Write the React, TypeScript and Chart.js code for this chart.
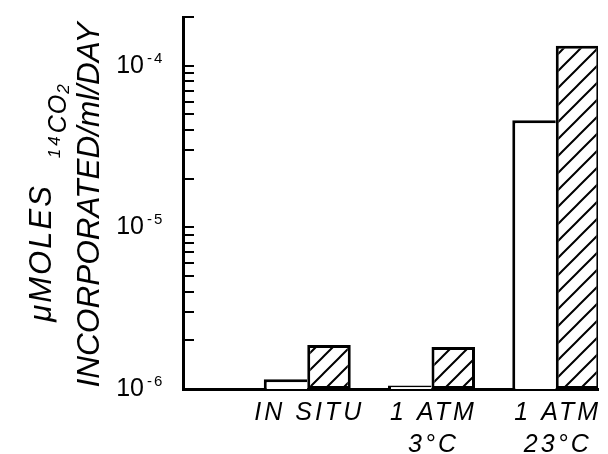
import React, { useEffect, useRef } from "react";
import { Chart, registerables } from "chart.js";

Chart.register(...registerables);

// Treatment groups along the x axis (line-broken labels) and their positions
const groupLabels: string[][] = [["IN SITU"], ["1 ATM", "3°C"], ["1 ATM", "23°C"]];
const groupPositions: number[] = [1, 2, 3];

// Uptake rates, µmoles 14CO2 incorporated / ml / day
const openValues: number[] = [1.15e-6, 1.05e-6, 4.6e-5];
const hatchedValues: number[] = [1.87e-6, 1.82e-6, 1.33e-4];

// Log axis range, decade labels and minor tick mantissas
const yMin = 1e-6;
const yMax = 2e-4;
const decades: number[] = [1e-6, 1e-5, 1e-4];
const decadeExponents: string[] = ["-6", "-5", "-4"];
const tickMantissas: number[] = [1, 2, 3, 4, 5, 6, 7, 8, 9];

// Axis title text
const titleLine1 = { main: "\u03bcMOLES", sup: "14", body: "CO", sub: "2" };
const titleLine2 = "INCORPORATED/ml/DAY";

const FACE = '"Liberation Sans", Arial, sans-serif';

function makeHatch(): CanvasPattern | string {
  const size = 17;
  const c = document.createElement("canvas");
  c.width = size;
  c.height = size;
  const g = c.getContext("2d");
  if (!g) return "#fff";
  g.fillStyle = "#fff";
  g.fillRect(0, 0, size, size);
  g.strokeStyle = "#000";
  g.lineWidth = 2;
  g.beginPath();
  g.moveTo(-2, size + 2);
  g.lineTo(size + 2, -2);
  g.moveTo(-3, 3);
  g.lineTo(3, -3);
  g.moveTo(size - 3, size + 3);
  g.lineTo(size + 3, size - 3);
  g.stroke();
  return g.createPattern(c, "repeat") || "#fff";
}

type Run = { text: string; size: number; dy: number; spacing: number; gap: number; italic: boolean };

function drawRotatedRuns(
  ctx: CanvasRenderingContext2D,
  runs: Run[],
  baselineX: number,
  centerY: number,
  squeeze: number
) {
  const c = ctx as any;
  const widths = runs.map((r) => {
    ctx.font = `${r.italic ? "italic " : ""}${r.size}px ${FACE}`;
    c.letterSpacing = "0px";
    return ctx.measureText(r.text).width + r.spacing * r.text.length;
  });
  const total = runs.reduce((s, r, i) => s + r.gap + widths[i], 0);
  ctx.save();
  ctx.translate(baselineX, centerY);
  ctx.rotate(-Math.PI / 2);
  ctx.scale(squeeze, 1);
  ctx.textAlign = "left";
  ctx.textBaseline = "alphabetic";
  let u = -total / 2;
  runs.forEach((r, i) => {
    u += r.gap;
    ctx.font = `${r.italic ? "italic " : ""}${r.size}px ${FACE}`;
    c.letterSpacing = `${r.spacing}px`;
    ctx.fillText(r.text, u, r.dy);
    u += widths[i];
  });
  c.letterSpacing = "0px";
  ctx.restore();
}

const decorPlugin = {
  id: "decor",
  afterDraw(chart: any) {
    const { ctx, chartArea, scales } = chart;
    const ys = scales.y;
    const xs = scales.x;
    const c = ctx as any;
    ctx.save();
    ctx.fillStyle = "#000";
    ctx.strokeStyle = "#000";

    // minor/major ticks pointing into the plot
    ctx.lineWidth = 2;
    ctx.beginPath();
    decades.forEach((d) => {
      tickMantissas.forEach((m) => {
        const v = m * d;
        if (v > yMax * 1.0001) return;
        const p = Math.round(ys.getPixelForValue(v));
        ctx.moveTo(chartArea.left, p);
        ctx.lineTo(chartArea.left + 11, p);
      });
    });
    ctx.stroke();

    // decade labels 10^n
    decades.forEach((d, i) => {
      const p = ys.getPixelForValue(d);
      ctx.font = `25px ${FACE}`;
      c.letterSpacing = "0px";
      ctx.textAlign = "right";
      ctx.textBaseline = "alphabetic";
      ctx.fillText("10", chartArea.left - 39, p + 7);
      ctx.font = `15px ${FACE}`;
      c.letterSpacing = "2px";
      ctx.textAlign = "left";
      ctx.fillText(decadeExponents[i], chartArea.left - 36, p - 3);
    });
    c.letterSpacing = "0px";

    // y axis title, two rotated lines
    const midY = (chartArea.top + chartArea.bottom) / 2;
    drawRotatedRuns(
      ctx,
      [
        { text: titleLine1.main, size: 31, dy: 0, spacing: 2, gap: 0, italic: true },
        { text: titleLine1.sup, size: 17, dy: 9, spacing: 3, gap: 26, italic: true },
        { text: titleLine1.body, size: 25, dy: 15, spacing: 1, gap: 0, italic: true },
        { text: titleLine1.sub, size: 17, dy: 18, spacing: 0, gap: 0, italic: true },
      ],
      51,
      midY,
      1
    );
    drawRotatedRuns(
      ctx,
      [{ text: titleLine2, size: 32, dy: 0, spacing: 0, gap: 0, italic: true }],
      99,
      midY + 2,
      0.985
    );

    // category labels under each group
    ctx.font = `italic 25px ${FACE}`;
    c.letterSpacing = "3px";
    ctx.textAlign = "center";
    ctx.textBaseline = "alphabetic";
    groupLabels.forEach((lines, i) => {
      const px = xs.getPixelForValue(groupPositions[i]) + 2;
      lines.forEach((t, j) => {
        ctx.fillText(t, px, chartArea.bottom + 31 + j * 32);
      });
    });
    c.letterSpacing = "0px";
    ctx.restore();
  },
};

export default function App() {
  const canvasRef = useRef<HTMLCanvasElement | null>(null);

  useEffect(() => {
    document.body.style.margin = "0";
    const canvas = canvasRef.current;
    if (!canvas) return;
    const hatch = makeHatch();

    const chart = new Chart(canvas, {
      type: "bar",
      data: {
        datasets: [
          {
            label: "open",
            data: groupPositions.map((x, i) => ({ x, y: openValues[i] })),
            backgroundColor: "#ffffff",
            borderColor: "#000000",
            borderWidth: { top: 3, left: 3, right: 0, bottom: 0 },
            borderSkipped: false,
            categoryPercentage: 0.7,
            barPercentage: 1,
          },
          {
            label: "hatched",
            data: groupPositions.map((x, i) => ({ x, y: hatchedValues[i] })),
            backgroundColor: hatch as any,
            borderColor: "#000000",
            borderWidth: 3,
            borderSkipped: false,
            categoryPercentage: 0.7,
            barPercentage: 1,
          },
        ],
      } as any,
      options: {
        animation: false,
        responsive: true,
        maintainAspectRatio: false,
        layout: { padding: { top: 17, right: 10, left: 0, bottom: 0 } },
        plugins: {
          legend: { display: false },
          tooltip: { enabled: false },
        },
        scales: {
          x: {
            type: "linear",
            offset: false,
            min: 0,
            max: 3.34,
            grid: { display: false, offset: false },
            ticks: { display: false },
            border: { display: true, color: "#000", width: 3 },
            afterBuildTicks: (s: any) => {
              s.ticks = groupPositions.map((v) => ({ value: v }));
            },
            afterFit: (s: any) => {
              s.height = 65;
            },
          },
          y: {
            type: "logarithmic",
            min: yMin,
            max: yMax,
            grid: { display: false },
            ticks: { display: false },
            border: { display: true, color: "#000", width: 3 },
            afterFit: (s: any) => {
              s.width = 183;
            },
          },
        },
      } as any,
      plugins: [decorPlugin],
    });

    return () => chart.destroy();
  }, []);

  return (
    <div style={{ position: "absolute", left: 0, top: 0, width: 608, height: 454, background: "#fff" }}>
      <canvas ref={canvasRef} />
    </div>
  );
}
